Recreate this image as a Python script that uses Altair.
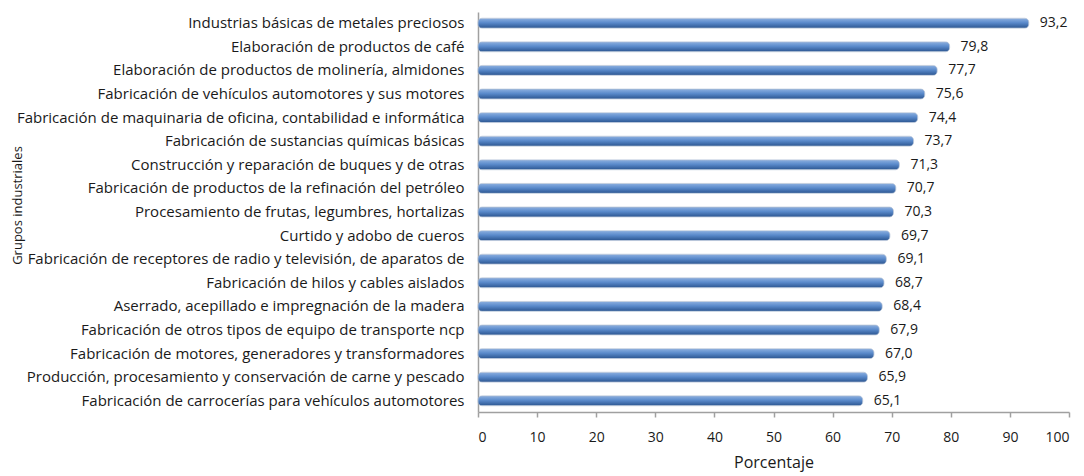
import altair as alt
import pandas as pd

grupos = [
    "Industrias básicas de metales preciosos",
    "Elaboración de productos de café",
    "Elaboración de productos de molinería, almidones",
    "Fabricación de vehículos automotores y sus motores",
    "Fabricación de maquinaria de oficina, contabilidad e informática",
    "Fabricación de sustancias químicas básicas",
    "Construcción y reparación de buques y de otras",
    "Fabricación de productos de la refinación del petróleo",
    "Procesamiento de frutas, legumbres, hortalizas",
    "Curtido y adobo de cueros",
    "Fabricación de receptores de radio y televisión, de aparatos de",
    "Fabricación de hilos y cables aislados",
    "Aserrado, acepillado e impregnación de la madera",
    "Fabricación de otros tipos de equipo de transporte ncp",
    "Fabricación de motores, generadores y transformadores",
    "Producción, procesamiento y conservación de carne y pescado",
    "Fabricación de carrocerías para vehículos automotores",
]
porcentajes = [93.2, 79.8, 77.7, 75.6, 74.4, 73.7, 71.3, 70.7, 70.3, 69.7,
               69.1, 68.7, 68.4, 67.9, 67.0, 65.9, 65.1]
ticks_x = [0, 10, 20, 30, 40, 50, 60, 70, 80, 90, 100]

df = pd.DataFrame({"grupo": grupos, "valor": porcentajes})

FONT = "Open Sans"
TXT = "#1a1a1a"

y_enc = alt.Y(
    "grupo:N", sort=grupos, title="Grupos industriales",
    scale=alt.Scale(paddingInner=0.58, paddingOuter=0.265),
    axis=alt.Axis(
        labelFont=FONT, labelFontSize=15, labelColor=TXT, labelLimit=600,
        labelPadding=14, ticks=False, domain=True, domainColor="#a0a0a0", domainWidth=1.5,
        titleFont=FONT, titleFontSize=13, titleFontWeight="normal", titleColor=TXT,
        titleX=-461, titleY=193, titleAngle=-90, titleAlign="center", titleBaseline="middle",
    ),
)
x_enc = alt.X(
    "valor:Q", title="Porcentaje",
    scale=alt.Scale(domain=[0, 100], nice=False),
    axis=alt.Axis(
        values=ticks_x, labelFont=FONT, labelFontSize=14, labelColor=TXT,
        grid=False, domainColor="#a0a0a0", domainWidth=1.5, tickColor="#a0a0a0",
        tickSize=5, tickWidth=1.5, labelPadding=13, titleFont=FONT, titleFontSize=16,
        titleFontWeight="normal", titleColor=TXT, titlePadding=10,
    ),
)

bars = alt.Chart(df).mark_bar(
    cornerRadius=4,
    fill=alt.Gradient(
        gradient="linear", x1=0, x2=0, y1=0, y2=1,
        stops=[
            alt.GradientStop(offset=0, color="#8DB0E0"),
            alt.GradientStop(offset=0.45, color="#5A8ACB"),
            alt.GradientStop(offset=1, color="#2B5590"),
        ],
    ),
    stroke="#a9bbd2", strokeWidth=0.6,
).encode(x=x_enc, y=y_enc)

labels = alt.Chart(df).transform_calculate(
    etiqueta="replace(format(datum.valor, '.1f'), '.', ',')"
).mark_text(
    align="left", baseline="middle", dx=11, font=FONT, fontSize=14, color=TXT
).encode(x="valor:Q", y=alt.Y("grupo:N", sort=grupos), text="etiqueta:N")

chart = (bars + labels).properties(
    width=591, height=400,
    autosize=alt.AutoSizeParams(type="none"),
    padding={"left": 470, "top": 4, "right": 7, "bottom": 64},
).configure_view(stroke=None)

chart.save("out.html", embed_options={"renderer": "svg", "actions": False})
